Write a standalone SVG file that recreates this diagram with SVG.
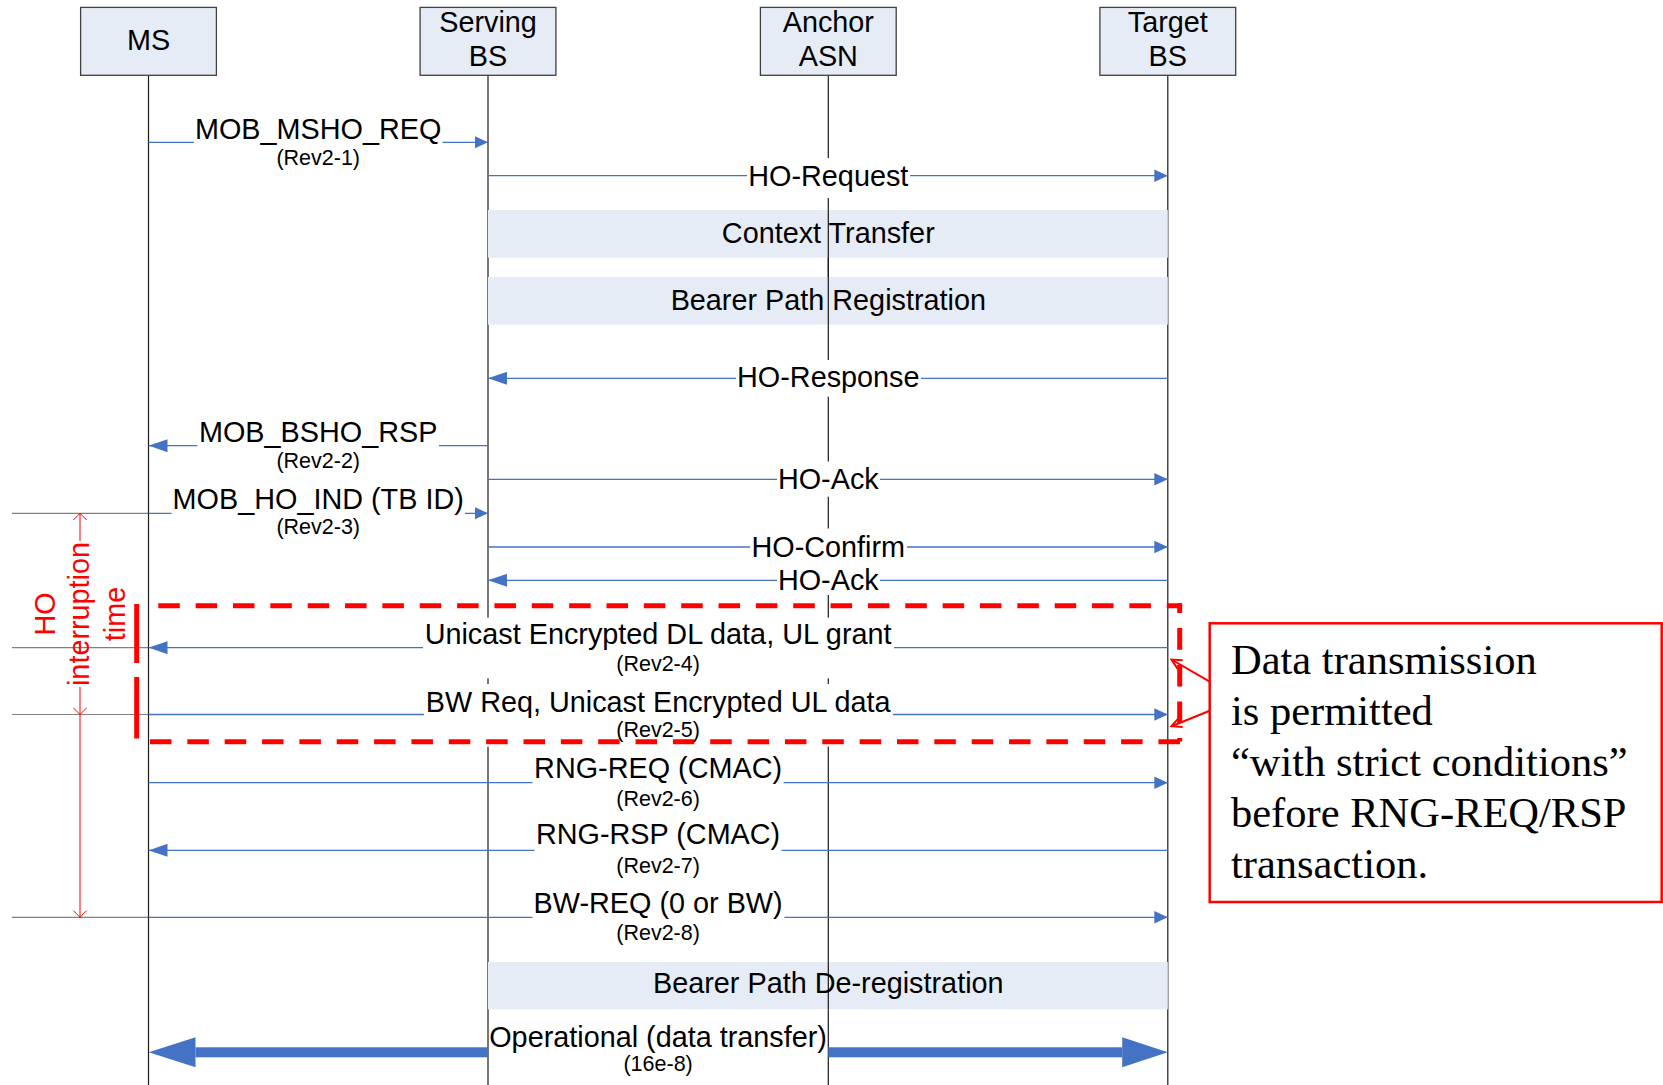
<svg xmlns="http://www.w3.org/2000/svg" width="1663" height="1085" viewBox="0 0 1663 1085">
  <defs>
    <style>
      .node rect { fill: #E6ECF6; stroke: #404040; stroke-width: 1.3; }
      .lbl { font-family: "Liberation Sans", Arial, sans-serif; font-size: 28.8px; fill: #000; text-anchor: middle; }
      .rev { font-family: "Liberation Sans", Arial, sans-serif; font-size: 21.5px; fill: #000; text-anchor: middle; }
      .life { stroke: #1a1a1a; stroke-width: 1.2; }
      .band { fill: #E6ECF6; }
      .msg { stroke: #4472C4; stroke-width: 1.3; fill: none; }
      .bg { fill: #ffffff; }
      .dot { stroke: #000; stroke-width: 1.2; stroke-dasharray: 1 1; }
      .redbox { stroke: #FF0000; stroke-width: 5; fill: none; }
      .hdash { stroke-dasharray: 21.5 15.85; }
      .vdash { stroke-dasharray: 21.7 15; stroke-dashoffset: 11.9; }
      .redtxt { font-family: "Liberation Sans", Arial, sans-serif; font-size: 28.8px; fill: #FF0000; text-anchor: middle; }
      .note { font-family: "Liberation Serif", "Times New Roman", serif; font-size: 42.5px; fill: #000; }
    </style>
    <!-- right-pointing messages use a short head, left-pointing ones a longer head -->
    <marker id="arr" markerUnits="userSpaceOnUse" viewBox="0 0 13.5 12.5" markerWidth="13.5" markerHeight="12.5" refX="13.5" refY="6.25" orient="auto">
      <path d="M0,0 L13.5,6.25 L0,12.5 z" fill="#4472C4"/>
    </marker>
    <marker id="arrL" markerUnits="userSpaceOnUse" viewBox="0 0 19 13" markerWidth="19" markerHeight="13" refX="19" refY="6.5" orient="auto">
      <path d="M0,0 L19,6.5 L0,13 z" fill="#4472C4"/>
    </marker>
    <marker id="rpt" markerUnits="userSpaceOnUse" viewBox="-12 -7 14 14" markerWidth="14" markerHeight="14" refX="0" refY="0" orient="auto">
      <path d="M-10,-5 L0,0 L-10,5" fill="none" stroke="#FF0000" stroke-width="2"/>
    </marker>
  </defs>

  <rect width="1663" height="1085" fill="#ffffff"/>

  <!-- lifelines -->
  <g id="lifelines">
    <line class="life" x1="148.5" y1="75.3" x2="148.5" y2="1085"/>
    <line class="life" x1="488" y1="75.3" x2="488" y2="1085"/>
    <line class="life" x1="828.3" y1="75.3" x2="828.3" y2="1085"/>
    <line class="life" x1="1167.8" y1="75.3" x2="1167.8" y2="1085"/>
  </g>

  <!-- participants -->
  <g id="node-ms" class="node">
    <rect x="80.6" y="7.4" width="135.8" height="67.9"/>
    <text class="lbl" x="148.5" y="50">MS</text>
  </g>
  <g id="node-serving-bs" class="node">
    <rect x="420.1" y="7.4" width="135.8" height="67.9"/>
    <text class="lbl" x="488" y="32">Serving</text>
    <text class="lbl" x="488" y="66">BS</text>
  </g>
  <g id="node-anchor-asn" class="node">
    <rect x="760.4" y="7.4" width="135.8" height="67.9"/>
    <text class="lbl" x="828.3" y="32">Anchor</text>
    <text class="lbl" x="828.3" y="66">ASN</text>
  </g>
  <g id="node-target-bs" class="node">
    <rect x="1099.9" y="7.4" width="135.8" height="67.9"/>
    <text class="lbl" x="1167.8" y="32">Target</text>
    <text class="lbl" x="1167.8" y="66">BS</text>
  </g>

  <!-- shaded procedure bands between Serving BS and Target BS -->
  <g id="node-context-transfer">
    <rect class="band" x="488" y="210" width="679.8" height="47.7"/>
  </g>
  <g id="node-bearer-path-registration">
    <rect class="band" x="488" y="277" width="679.8" height="47.7"/>
  </g>
  <g id="node-bearer-path-deregistration">
    <rect class="band" x="488" y="962" width="679.8" height="47.3"/>
  </g>
  <!-- lifelines stay visible through the bands -->
  <line class="life" x1="828.3" y1="210" x2="828.3" y2="324.7"/>
  <line class="life" x1="828.3" y1="962" x2="828.3" y2="1009.3"/>

  <!-- message connectors -->
  <g id="connectors">
    <line class="msg" x1="148.5" y1="142.3" x2="488" y2="142.3" marker-end="url(#arr)"/>
    <line class="msg" x1="488" y1="175.7" x2="1167.8" y2="175.7" marker-end="url(#arr)"/>
    <line class="msg" x1="1167.8" y1="378.3" x2="488" y2="378.3" marker-end="url(#arrL)"/>
    <line class="msg" x1="488" y1="445.7" x2="148.5" y2="445.7" marker-end="url(#arrL)"/>
    <line class="msg" x1="488" y1="479.3" x2="1167.8" y2="479.3" marker-end="url(#arr)"/>
    <line class="msg" x1="148.5" y1="513.3" x2="488" y2="513.3" marker-end="url(#arr)"/>
    <line class="msg" x1="488" y1="547" x2="1167.8" y2="547" marker-end="url(#arr)"/>
    <line class="msg" x1="1167.8" y1="580.3" x2="488" y2="580.3" marker-end="url(#arrL)"/>
    <line class="msg" x1="1167.8" y1="647.7" x2="148.5" y2="647.7" marker-end="url(#arrL)"/>
    <line class="msg" x1="148.5" y1="714.5" x2="1167.8" y2="714.5" marker-end="url(#arr)"/>
    <line class="msg" x1="148.5" y1="782.7" x2="1167.8" y2="782.7" marker-end="url(#arr)"/>
    <line class="msg" x1="1167.8" y1="850.3" x2="148.5" y2="850.3" marker-end="url(#arrL)"/>
    <line class="msg" x1="148.5" y1="917.3" x2="1167.8" y2="917.3" marker-end="url(#arr)"/>
    <!-- operational data transfer, thick two-way arrow -->
    <rect x="195.5" y="1047.3" width="292.5" height="10" fill="#4472C4"/>
    <polygon points="148.7,1052.3 195.5,1037.3 195.5,1067.3" fill="#4472C4"/>
    <rect x="828.3" y="1047.3" width="293.9" height="10" fill="#4472C4"/>
    <polygon points="1167.8,1052.3 1122.2,1037.3 1122.2,1067.3" fill="#4472C4"/>
  </g>

  <!-- label backgrounds break the lines they sit on -->
  <g id="label-backgrounds">
    <rect class="bg" x="194" y="112" width="248.5" height="33"/>
    <rect class="bg" x="747" y="158" width="163" height="40"/>
    <rect class="bg" x="736" y="360" width="185" height="36.7"/>
    <rect class="bg" x="197.5" y="415" width="241.5" height="33"/>
    <rect class="bg" x="777" y="461.5" width="103" height="35.2"/>
    <rect class="bg" x="171.5" y="482" width="293.5" height="34"/>
    <rect class="bg" x="750" y="528.5" width="157" height="33.5"/>
    <rect class="bg" x="777" y="562" width="103" height="33"/>
    <rect class="bg" x="423" y="617.7" width="471" height="60.6"/>
    <rect class="bg" x="424" y="684" width="469" height="62.7"/>
    <rect class="bg" x="532.5" y="754" width="251" height="31"/>
    <rect class="bg" x="534.5" y="821" width="247" height="31"/>
    <rect class="bg" x="532.5" y="888" width="252" height="31"/>
  </g>

  <!-- handover interruption time -->
  <g id="node-ho-interruption">
    <line class="dot" x1="12.5" y1="513.3" x2="148" y2="513.3"/>
    <line class="dot" x1="12.5" y1="647.7" x2="148" y2="647.7"/>
    <line class="dot" x1="12.5" y1="714.5" x2="148" y2="714.5"/>
    <line class="dot" x1="12.5" y1="917.3" x2="148" y2="917.3"/>
    <line x1="80" y1="513.3" x2="80" y2="541" stroke="#FF0000" stroke-width="1"/>
    <line x1="80" y1="687" x2="80" y2="917.3" stroke="#FF0000" stroke-width="1"/>
    <path d="M73.3,520 L80,513.3 L86.7,520" fill="none" stroke="#FF0000" stroke-width="1"/>
    <path d="M73.3,707.8 L80,714.5 L86.7,707.8" fill="none" stroke="#FF0000" stroke-width="1"/>
    <path d="M73.3,910.6 L80,917.3 L86.7,910.6" fill="none" stroke="#FF0000" stroke-width="1"/>
    <g transform="translate(0,614) rotate(-90)">
      <text class="redtxt" x="0" y="55.4">HO</text>
      <text class="redtxt" x="0" y="89">interruption</text>
      <text class="redtxt" x="0" y="125">time</text>
    </g>
  </g>

  <!-- data-permitted region -->
  <g id="node-permitted-region">
    <line class="redbox hdash" x1="158.3" y1="605.7" x2="1182" y2="605.7"/>
    <line class="redbox hdash" x1="150" y1="741.7" x2="1180" y2="741.7"/>
    <line class="redbox vdash" x1="1179.7" y1="603.2" x2="1179.7" y2="741.5"/>
    <line class="redbox" x1="136.7" y1="604" x2="136.7" y2="663"/>
    <line class="redbox" x1="136.7" y1="677" x2="136.7" y2="738.5"/>
  </g>

  <!-- message labels -->
  <g id="labels">
    <text class="lbl" x="318.2" y="138.5">MOB_MSHO_REQ</text>
    <text class="rev" x="318.2" y="164.5">(Rev2-1)</text>
    <text class="lbl" x="828.3" y="185.7">HO-Request</text>
    <text class="lbl" x="828.3" y="243">Context Transfer</text>
    <text class="lbl" x="828.3" y="309.5">Bearer Path Registration</text>
    <text class="lbl" x="828.3" y="387">HO-Response</text>
    <text class="lbl" x="318.2" y="441.7">MOB_BSHO_RSP</text>
    <text class="rev" x="318.2" y="467.5">(Rev2-2)</text>
    <text class="lbl" x="828.3" y="488.5">HO-Ack</text>
    <text class="lbl" x="318.2" y="509">MOB_HO_IND (TB ID)</text>
    <text class="rev" x="318.2" y="534">(Rev2-3)</text>
    <text class="lbl" x="828.3" y="556.5">HO-Confirm</text>
    <text class="lbl" x="828.3" y="589.5">HO-Ack</text>
    <text class="lbl" x="658.1" y="644.3">Unicast Encrypted DL data, UL grant</text>
    <text class="rev" x="658.1" y="671">(Rev2-4)</text>
    <text class="lbl" x="658.1" y="711.5">BW Req, Unicast Encrypted UL data</text>
    <text class="rev" x="658.1" y="737">(Rev2-5)</text>
    <text class="lbl" x="658.1" y="777.5">RNG-REQ (CMAC)</text>
    <text class="rev" x="658.1" y="805.5">(Rev2-6)</text>
    <text class="lbl" x="658.1" y="844.3">RNG-RSP (CMAC)</text>
    <text class="rev" x="658.1" y="872.5">(Rev2-7)</text>
    <text class="lbl" x="658.1" y="912.5">BW-REQ (0 or BW)</text>
    <text class="rev" x="658.1" y="939.5">(Rev2-8)</text>
    <text class="lbl" x="828.3" y="993.3">Bearer Path De-registration</text>
    <text class="lbl" x="658.1" y="1047.3">Operational (data transfer)</text>
    <text class="rev" x="658.1" y="1071">(16e-8)</text>
  </g>

  <!-- callout note -->
  <g id="node-note">
    <rect x="1209.7" y="623.3" width="452" height="278.7" fill="#ffffff" stroke="#FF0000" stroke-width="2.5"/>
    <line x1="1209.7" y1="681.7" x2="1171.5" y2="659.5" stroke="#FF0000" stroke-width="2" marker-end="url(#rpt)"/>
    <line x1="1209.7" y1="710.7" x2="1171.5" y2="726.2" stroke="#FF0000" stroke-width="2" marker-end="url(#rpt)"/>
    <text class="note" x="1231" y="673.5">Data transmission</text>
    <text class="note" x="1231" y="724.7">is permitted</text>
    <text class="note" x="1231" y="775.9">“with strict conditions”</text>
    <text class="note" x="1231" y="827.1">before RNG-REQ/RSP</text>
    <text class="note" x="1231" y="878.3">transaction.</text>
  </g>
</svg>
